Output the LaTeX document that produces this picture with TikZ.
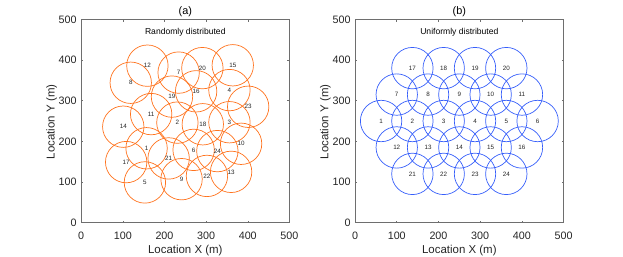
\documentclass[tikz,border=0pt]{standalone}
\usepackage{fontspec}
\setmainfont{Liberation Sans}
\definecolor{cor}{RGB}{255,115,30}
\definecolor{cbl}{RGB}{55,95,250}
\definecolor{axc}{RGB}{110,110,110}
\definecolor{txc}{RGB}{38,38,38}
\tikzset{
  cellbase/.style={circle, inner sep=0pt, minimum size=41.4bp, line width=0.7bp, text=txc, font=\fontsize{6.3}{7}\selectfont},
  cella/.style={cellbase, draw=cor},
  cellb/.style={cellbase, draw=cbl},
  axbox/.style={draw=axc, line width=0.5bp},
  tickmark/.style={draw=axc, line width=0.5bp},
  ticklab/.style={inner sep=0pt, text=txc, font=\fontsize{10.8}{12}\selectfont},
  axlab/.style={inner sep=0pt, text=txc, font=\fontsize{11.5}{13}\selectfont},
  ttl/.style={inner sep=0pt, text=black, font=\fontsize{10.9}{12}\selectfont},
  subttl/.style={inner sep=0pt, text=black, font=\fontsize{8.6}{10}\selectfont},
}
\newcommand{\myaxes}[3]{%
  % #1 prefix, #2 title, #3 subtitle
  \draw[axbox] (0,0) coordinate (#1o) rectangle (500,500) coordinate (#1t);
  \foreach \v in {0,100,...,500} {
    \draw[tickmark] (\v,0) -- ++(0,2.2bp);
    \draw[tickmark] (\v,500) -- ++(0,-2.2bp);
    \draw[tickmark] (0,\v) -- ++(2.2bp,0);
    \draw[tickmark] (500,\v) -- ++(-2.2bp,0);
    \node[ticklab, anchor=north] (#1x\v) at ([yshift=-9bp]\v,0) {\v};
    \node[ticklab, anchor=east] (#1y\v) at ([xshift=-4.3bp]0,\v) {\v};
  }
  \node[ttl, anchor=base] (#1title) at ([yshift=5.3bp]250,500) {#2};
  \node[subttl, anchor=base] (#1sub) at ([yshift=-15bp]250,500) {#3};
  \node[axlab, anchor=base] (#1xl) at ([yshift=-30.6bp]250,0) {Location X (m)};
  \node[axlab, anchor=base, rotate=90] (#1yl) at ([xshift=-26.6bp]0,248) {Location Y (m)};
}
\begin{document}
\begin{tikzpicture}
\useasboundingbox (0,0) rectangle (623bp,-257bp);
% Panel (a)
\begin{scope}[shift={(81.2bp,-222.7bp)}, x=0.4164bp, y=0.4068bp]
  \myaxes{a}{(a)}{Randomly distributed}
  \foreach \n/\px/\py in {1/157/183, 2/231/246, 3/356/247, 4/356/326, 5/153/99,
      6/270/179, 7/234/369, 8/119/344, 9/241/107, 10/384/194, 11/168/267,
      12/159/386, 13/360/125, 14/101/236, 15/364/387, 16/276/323, 17/108/149,
      18/292/242, 19/218/310, 20/291/380, 21/210/158, 22/302/115, 23/401/285,
      24/327/176} {
    \node[cella] (ra\n) at (\px,\py) {\n};
  }
\end{scope}
% Panel (b)
\begin{scope}[shift={(355bp,-222.7bp)}, x=0.4174bp, y=0.4068bp]
  \myaxes{b}{(b)}{Uniformly distributed}
  \foreach \n/\px/\py in {1/62.5/250, 2/137.5/250, 3/212.5/250, 4/287.5/250, 5/362.5/250, 6/437.5/250,
      7/100/315, 8/175/315, 9/250/315, 10/325/315, 11/400/315,
      12/100/185, 13/175/185, 14/250/185, 15/325/185, 16/400/185,
      17/137.5/380, 18/212.5/380, 19/287.5/380, 20/362.5/380,
      21/137.5/120, 22/212.5/120, 23/287.5/120, 24/362.5/120} {
    \node[cellb] (ub\n) at (\px,\py) {\n};
  }
\end{scope}
\end{tikzpicture}
\end{document}
